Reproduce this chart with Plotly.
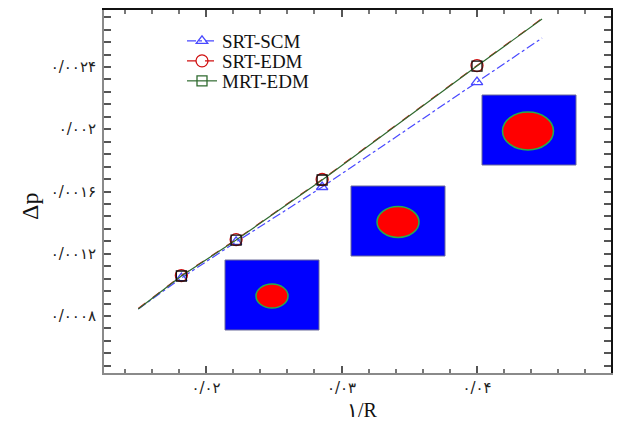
import plotly.graph_objects as go

# 1/R values (simulated radii 55, 45, 35, 25 plus the curve ends)
inv_r = [0.0150, 0.01818, 0.02222, 0.02857, 0.0400, 0.0448]
# pressure jump for each model
srt_scm = [0.000845, 0.001044, 0.001276, 0.001629, 0.002303, 0.002586]
srt_edm = [0.000848, 0.001060, 0.001291, 0.001677, 0.002409, 0.002711]
mrt_edm = [0.000845, 0.001057, 0.001288, 0.001674, 0.002406, 0.002708]
# indices of the simulated cases (shown with markers)
sim_idx = [1, 2, 3, 4]

x_tickvals = [0.02, 0.03, 0.04]
x_ticktext = ["۰/۰۲", "۰/۰۳", "۰/۰۴"]
y_tickvals = [0.0008, 0.0012, 0.0016, 0.0020, 0.0024]
y_ticktext = ["۰/۰۰۰۸", "۰/۰۰۱۲", "۰/۰۰۱۶", "۰/۰۰۲", "۰/۰۰۲۴"]

SERIF = "Liberation Serif"

series = [
    ("SRT-SCM", srt_scm, "#4848ff", "dashdot", "triangle-up-open", "#4848ff", 10),
    ("SRT-EDM", srt_edm, "#d01010", "dash", "circle-open", "#d01010", 12),
    ("MRT-EDM", mrt_edm, "#2f6a2f", "solid", "square-open", "#111111", 10),
]

W, H = 621, 423
ML, MR, MT, MB = 104, 10, 10, 50


def px_x(p):
    return (p - ML) / (W - ML - MR)


def px_y(p):
    return (H - MB - p) / (H - MT - MB)


legend_ids = ["legend", "legend2", "legend3"]
legend_rows = [41, 61, 81]

fig = go.Figure()
for (name, ys, col, dash, sym, mcol, ms), lid in zip(series, legend_ids):
    # continuous curve
    fig.add_trace(go.Scatter(x=inv_r, y=ys, mode="lines", showlegend=False,
                             line=dict(color=col, width=1.2, dash=dash),
                             hoverinfo="skip"))
    # simulated points
    fig.add_trace(go.Scatter(x=[inv_r[i] for i in sim_idx], y=[ys[i] for i in sim_idx],
                             mode="markers", showlegend=False,
                             marker=dict(symbol=sym, size=ms, color=mcol,
                                         line=dict(width=1.3, color=mcol))))
    # legend entry
    fig.add_trace(go.Scatter(x=[None], y=[None], mode="lines+markers", name=name,
                             legend=lid,
                             line=dict(color=col, width=1.2, dash=dash),
                             marker=dict(symbol=sym, size=ms, color=col,
                                         line=dict(width=1.3, color=col))))

# frame on top / right
fig.add_trace(go.Scatter(x=[None], y=[None], xaxis="x2", yaxis="y2", showlegend=False))

x_range = [0.01247, 0.04989]
y_range = [0.000434, 0.002766]

axis_common = dict(showgrid=False, zeroline=False, ticks="inside", ticklen=7,
                   tickwidth=1.5, tickcolor="#555555")
tick_font = dict(family="DejaVu Sans", size=15, color="#222222")

legends = {}
for lid, row in zip(legend_ids, legend_rows):
    legends[lid] = dict(x=px_x(182), y=px_y(row), xanchor="left", yanchor="middle",
                        bgcolor="rgba(0,0,0,0)",
                        font=dict(family=SERIF, size=19, color="#111111"))

fig.update_layout(
    width=W, height=H,
    margin=dict(l=ML, r=MR, t=MT, b=MB),
    paper_bgcolor="white", plot_bgcolor="white",
    xaxis=dict(range=x_range, tickmode="array", tickvals=x_tickvals, ticktext=x_ticktext,
               showline=True, linecolor="#8a8a8a", linewidth=2, tickfont=tick_font,
               minor=dict(tickmode="linear", tick0=0.0, dtick=0.002, ticks="inside",
                          ticklen=4, tickwidth=1.5, tickcolor="#777777"),
               **axis_common),
    yaxis=dict(range=y_range, tickmode="array", tickvals=y_tickvals, ticktext=y_ticktext,
               showline=True, linecolor="#8a8a8a", linewidth=2, tickfont=tick_font,
               ticklabelstandoff=3,
               minor=dict(tickmode="linear", tick0=0.0008, dtick=0.00008, ticks="inside",
                          ticklen=7, tickwidth=1.5, tickcolor="#555555"),
               **axis_common),
    xaxis2=dict(range=x_range, overlaying="x", side="top", showticklabels=False,
                showline=True, linecolor="#111111", linewidth=1.5,
                tickmode="array", tickvals=x_tickvals,
                minor=dict(tickmode="linear", tick0=0.0, dtick=0.002, ticks="inside",
                           ticklen=4, tickwidth=1.5, tickcolor="#777777"),
                **axis_common),
    yaxis2=dict(range=y_range, overlaying="y", side="right", showticklabels=False,
                showline=True, linecolor="#111111", linewidth=1.5,
                tickmode="array", tickvals=y_tickvals,
                minor=dict(tickmode="linear", tick0=0.0008, dtick=0.00008, ticks="inside",
                           ticklen=7, tickwidth=1.5, tickcolor="#555555"),
                **axis_common),
    showlegend=True,
    **legends,
)

# axis titles
fig.add_annotation(text="۱/R", xref="paper", yref="paper", x=px_x(362), y=px_y(410),
                   xanchor="center", yanchor="middle", showarrow=False,
                   font=dict(family=SERIF, size=20, color="#111111"))
fig.add_annotation(text="Δp", xref="paper", yref="paper", x=px_x(30), y=px_y(207),
                   xanchor="center", yanchor="middle", textangle=-90, showarrow=False,
                   font=dict(family=SERIF, size=24, color="#111111"))

# droplet snapshots: (left, top, right, bottom) of frame, (cx, cy, rx, ry) of drop
snapshots = [
    ((225, 260, 319, 330), (272, 296, 16, 12)),
    ((351, 186, 445, 256), (398, 222, 21, 15.5)),
    ((482, 95, 576, 165), (528, 131, 25.5, 19)),
]
for (l, t, r, b), (cx, cy, rx, ry) in snapshots:
    fig.add_shape(type="rect", xref="paper", yref="paper",
                  x0=px_x(l), x1=px_x(r), y0=px_y(b), y1=px_y(t),
                  fillcolor="#0000ff", line=dict(color="#6a6a9a", width=1))
    fig.add_shape(type="circle", xref="paper", yref="paper",
                  x0=px_x(cx - rx), x1=px_x(cx + rx), y0=px_y(cy + ry), y1=px_y(cy - ry),
                  fillcolor="#ff0000", line=dict(color="#22b04a", width=1.5))

fig.write_html("out.html")
